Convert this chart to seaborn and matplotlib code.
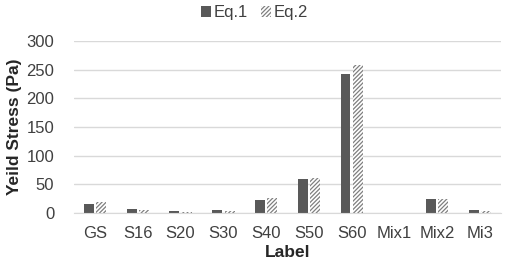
import numpy as np
import pandas as pd
import matplotlib
matplotlib.use("Agg")
import matplotlib.pyplot as plt
import seaborn as sns

# values
labels = ["GS", "S16", "S20", "S30", "S40", "S50", "S60", "Mix1", "Mix2", "Mi3"]
eq1 = [16, 7.5, 3, 4.5, 23, 59, 242, 0, 24.5, 5]
eq2 = [20, 6, 1.5, 4, 26, 61, 258, 0, 24, 4]

df = pd.DataFrame({
    "Label": labels * 2,
    "Stress": eq1 + eq2,
    "Series": ["Eq.1"] * len(labels) + ["Eq.2"] * len(labels),
})

sns.set_style("white")
plt.rcParams["font.family"] = ["Liberation Sans", "DejaVu Sans"]
plt.rcParams["hatch.linewidth"] = 0.9

fig = plt.figure(figsize=(5.09, 2.64), dpi=100)
ax = fig.add_axes([0.1446, 0.193, 0.8405, 0.652])

sns.barplot(data=df, x="Label", y="Stress", hue="Series",
            palette=["#595959", "#ffffff"], width=0.58, gap=0.2,
            saturation=1, legend=False, ax=ax)

for p in ax.containers[0]:
    p.set_linewidth(0)
for p in ax.containers[1]:
    p.set_facecolor("white")
    p.set_edgecolor("#7f7f7f")
    p.set_hatch("////////")
    p.set_linewidth(0)

ax.set_ylim(0, 300)
ax.set_yticks(range(0, 301, 50))
ax.yaxis.grid(True, color="#d9d9d9", linewidth=1)
ax.set_axisbelow(True)
for s in ["top", "right", "left"]:
    ax.spines[s].set_visible(False)
ax.spines["bottom"].set_color("#d9d9d9")
ax.tick_params(axis="both", length=0, labelsize=12, labelcolor="#404040")
ax.tick_params(axis="x", pad=9)
ax.tick_params(axis="y", pad=14)
ax.set_xlabel("Label", fontsize=12.5, fontweight="bold", color="#262626", labelpad=3)
ax.set_ylabel("Yeild Stress (Pa)", fontsize=12.5, fontweight="bold", color="#262626", labelpad=3)

fig.legend([ax.containers[0][0], ax.containers[1][0]], ["Eq.1", "Eq.2"],
           loc="center", bbox_to_anchor=(0.5, 0.952), ncol=2, frameon=False,
           fontsize=12, handlelength=0.6, handleheight=0.6,
           handletextpad=0.15, columnspacing=0.8, labelcolor="#404040")

fig.savefig("out.png", dpi=100)
